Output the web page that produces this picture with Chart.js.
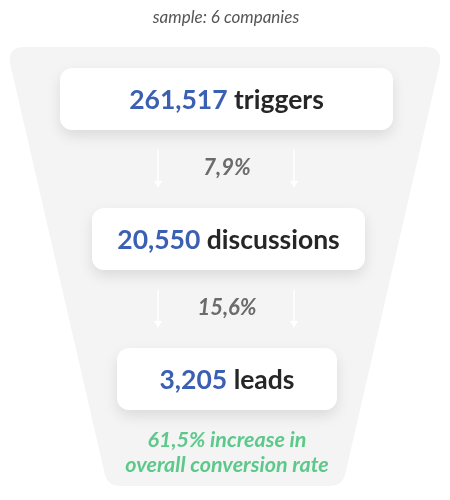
<!DOCTYPE html>
<html>
<head>
<meta charset="utf-8">
<script src="https://cdn.jsdelivr.net/npm/chart.js@4"></script>
<style>
  html, body { margin: 0; padding: 0; background: #fff; }
  #wrap { width: 450px; height: 500px; }
</style>
</head>
<body>
<div id="wrap"><canvas id="funnel"></canvas></div>
<script>
// ===== data =====
const stages = ["triggers", "discussions", "leads"];
const counts = ["261,517", "20,550", "3,205"];
const rates = ["7,9%", "15,6%"];
const subtitle = "sample: 6 companies";
const summary = ["61,5% increase in", "overall conversion rate"];

// box geometry per stage (layout only)
const boxes = [
  { x1: 60, x2: 393, y1: 68, y2: 130 },
  { x1: 92, x2: 365, y1: 208, y2: 270 },
  { x1: 117, x2: 337, y1: 348, y2: 410 }
];

function rr(ctx, x, y, w, h, r) {
  ctx.beginPath();
  ctx.moveTo(x + r, y);
  ctx.arcTo(x + w, y, x + w, y + h, r);
  ctx.arcTo(x + w, y + h, x, y + h, r);
  ctx.arcTo(x, y + h, x, y, r);
  ctx.arcTo(x, y, x + w, y, r);
  ctx.closePath();
}

function arrow(ctx, x, y1, y2) {
  ctx.strokeStyle = "#fff";
  ctx.fillStyle = "#fff";
  ctx.lineWidth = 1.5;
  ctx.beginPath(); ctx.moveTo(x, y1); ctx.lineTo(x, y2 - 5); ctx.stroke();
  ctx.beginPath(); ctx.moveTo(x - 4, y2 - 7); ctx.lineTo(x + 4, y2 - 7); ctx.lineTo(x, y2); ctx.closePath(); ctx.fill();
}

const funnelPlugin = {
  id: "funnel",
  afterDraw(chart) {
    const ctx = chart.ctx;
    ctx.save();
    // background trapezoid
    ctx.fillStyle = "#f4f4f4";
    ctx.beginPath();
    ctx.moveTo(24, 47);
    ctx.lineTo(426, 47);
    ctx.quadraticCurveTo(442, 47, 440, 63);
    ctx.lineTo(345, 475);
    ctx.quadraticCurveTo(342, 486, 330, 486);
    ctx.lineTo(120, 486);
    ctx.quadraticCurveTo(108, 486, 105, 475);
    ctx.lineTo(10, 63);
    ctx.quadraticCurveTo(8, 47, 24, 47);
    ctx.fill();

    ctx.textAlign = "center";
    ctx.textBaseline = "middle";
    ctx.fillStyle = "#555";
    ctx.font = "italic 17px Lato";
    ctx.fillText(subtitle, 226, 18);

    stages.forEach((s, i) => {
      const b = boxes[i];
      ctx.save();
      ctx.shadowColor = "rgba(0,0,0,0.10)";
      ctx.shadowBlur = 14;
      ctx.shadowOffsetY = 6;
      ctx.fillStyle = "#fff";
      rr(ctx, b.x1, b.y1, b.x2 - b.x1, b.y2 - b.y1, 12);
      ctx.fill();
      ctx.restore();

      ctx.font = "bold 26.5px Lato";
      const a = counts[i] + " ";
      const wa = ctx.measureText(a).width;
      const wb = ctx.measureText(s).width;
      const x0 = (b.x1 + b.x2) / 2 - (wa + wb) / 2;
      const cy = (b.y1 + b.y2) / 2 + 1;
      ctx.textAlign = "left";
      ctx.fillStyle = "#3a5fb3";
      ctx.fillText(a, x0, cy);
      ctx.fillStyle = "#262626";
      ctx.fillText(s, x0 + wa, cy);
      ctx.textAlign = "center";
    });

    rates.forEach((r, i) => {
      const top = boxes[i].y2 + 20, bot = boxes[i + 1].y1 - 20;
      arrow(ctx, 158, top, bot);
      arrow(ctx, 294, top, bot);
      ctx.fillStyle = "#6b6b6b";
      ctx.font = "italic bold 22px Lato";
      ctx.fillText(r, 227, (boxes[i].y2 + boxes[i + 1].y1) / 2 - 1);
    });

    ctx.fillStyle = "#5cc98a";
    ctx.font = "italic bold 21.5px Lato";
    summary.forEach((t, i) => ctx.fillText(t, 227, 440 + i * 25));
    ctx.restore();
  }
};

new Chart(document.getElementById("funnel"), {
  type: "bar",
  data: { labels: stages, datasets: [{ data: [], backgroundColor: "transparent" }] },
  options: {
    responsive: true,
    maintainAspectRatio: false,
    animation: false,
    events: [],
    plugins: { legend: { display: false }, tooltip: { enabled: false } },
    scales: { x: { display: false }, y: { display: false } }
  },
  plugins: [funnelPlugin]
});
</script>
</body>
</html>
